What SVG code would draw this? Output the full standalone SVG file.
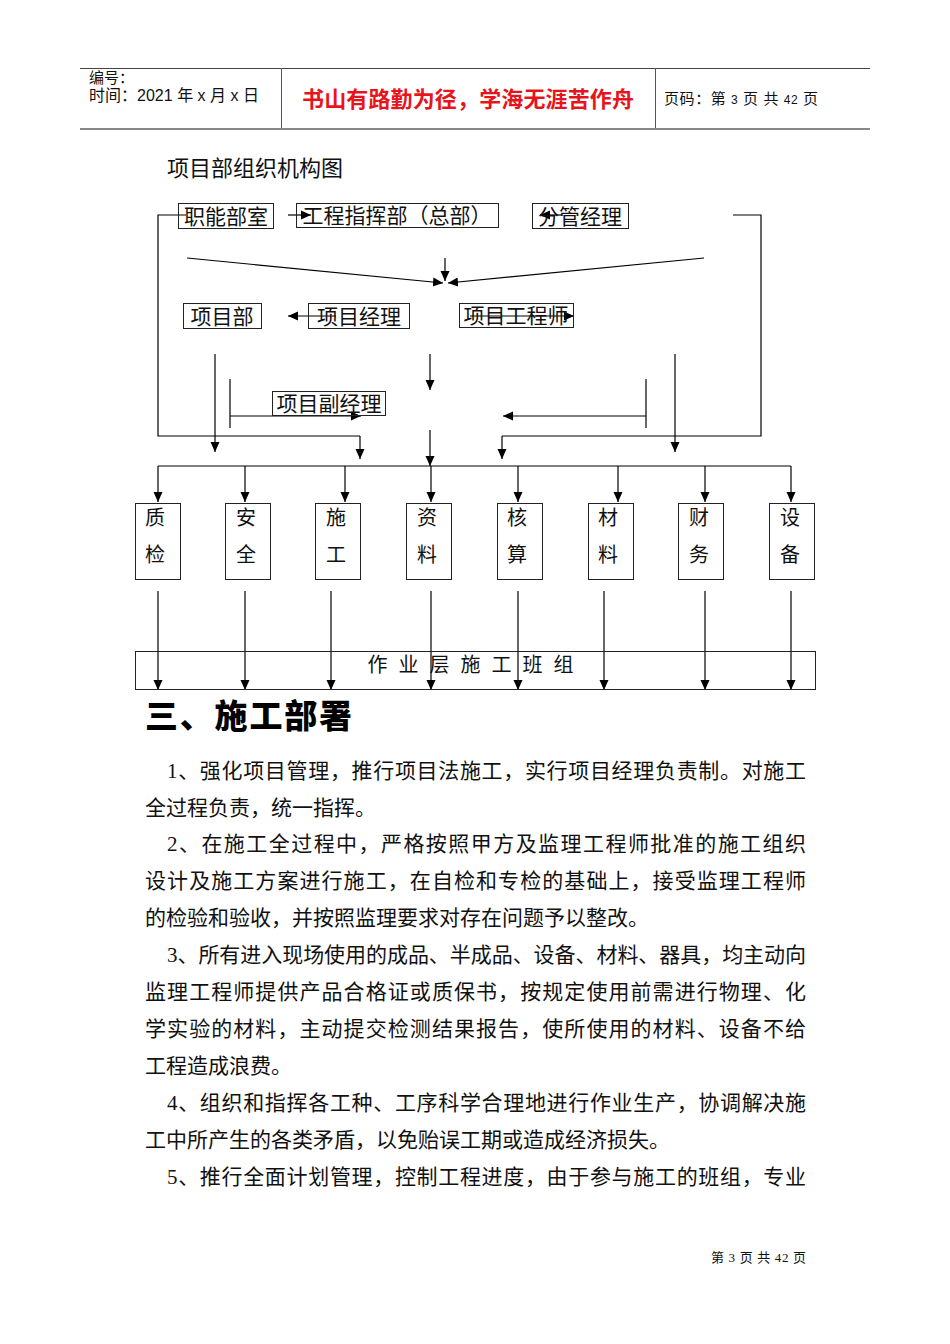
<svg xmlns="http://www.w3.org/2000/svg" width="950" height="1344" viewBox="0 0 950 1344">
<style>
.bx{fill:none;stroke:#222;stroke-width:1}
.ln{fill:none;stroke:#000;stroke-width:1.2}
.ar{fill:none;stroke:#000;stroke-width:1.2;marker-end:url(#ah)}
.t{font-family:"Noto Sans CJK SC","Liberation Serif",serif;fill:#111}
.h{font-family:"Liberation Sans","Noto Sans CJK SC",sans-serif;fill:#111}
.body{font-family:"Liberation Serif","Noto Sans CJK SC",serif;font-size:21px;fill:#111}
</style>
<defs>
<marker id="ah" markerWidth="11" markerHeight="11" refX="10" refY="5" orient="auto" markerUnits="userSpaceOnUse">
<path d="M0,0.5 L10,5 L0,9.5 Z" fill="#000"/>
</marker>
</defs>
<rect width="950" height="1344" fill="#fff"/>

<g id="header">
<line x1="80" y1="68.5" x2="870" y2="68.5" stroke="#444" stroke-width="1"/>
<line x1="80" y1="129" x2="870" y2="129" stroke="#888" stroke-width="2"/>
<line x1="281.5" y1="68" x2="281.5" y2="128" stroke="#555" stroke-width="1"/>
<line x1="655.5" y1="68" x2="655.5" y2="128" stroke="#555" stroke-width="1"/>
<text class="h" x="89" y="83" font-size="15">编号：</text>
<text class="h" x="89" y="101" font-size="16" textLength="170" lengthAdjust="spacing">时间：2021 年 x 月 x 日</text>
<text x="468" y="107" font-size="22" font-weight="bold" text-anchor="middle" fill="#e8141b" font-family="Noto Sans CJK SC, sans-serif" textLength="332" lengthAdjust="spacing">书山有路勤为径，学海无涯苦作舟</text>
<text class="h" x="664" y="104" font-size="15" textLength="154" lengthAdjust="spacing">页码：第 <tspan font-size="12">3</tspan> 页 共 <tspan font-size="12">42</tspan> 页</text>
</g>

<text class="t" x="167" y="176" font-size="22">项目部组织机构图</text>

<g id="connectors">
<path class="ln" d="M186,215 H158 V436 H360"/>
<path class="ar" d="M360,436 V459"/>
<path class="ar" d="M288,215 H311"/>
<path class="ar" d="M562,215 H540"/>
<path class="ln" d="M733,215 H761 V436 H502"/>
<path class="ar" d="M502,436 V459"/>
<path class="ar" d="M187,258 L443,283"/>
<path class="ar" d="M704,258 L448,283"/>
<path class="ar" d="M445,258 V281"/>
<path class="ar" d="M336,316 H288"/>
<path class="ar" d="M470,316 H574"/>
<path class="ar" d="M215,354 V452"/>
<path class="ar" d="M430,354 V390"/>
<path class="ar" d="M675,354 V452"/>
<path class="ln" d="M230,379 V428"/>
<path class="ar" d="M230,416 H361"/>
<path class="ln" d="M646,379 V428"/>
<path class="ar" d="M646,416 H503"/>
<path class="ar" d="M430,430 V466"/>
<path class="ln" d="M158,466 H791"/>
<path class="ar" d="M158,466 V502"/>
<path class="ar" d="M245,466 V502"/>
<path class="ar" d="M345,466 V502"/>
<path class="ar" d="M431,466 V502"/>
<path class="ar" d="M518,466 V502"/>
<path class="ar" d="M618,466 V502"/>
<path class="ar" d="M705,466 V502"/>
<path class="ar" d="M791,466 V502"/>
<path class="ar" d="M158,591 V690"/>
<path class="ar" d="M245,591 V690"/>
<path class="ar" d="M331,591 V690"/>
<path class="ar" d="M431,591 V690"/>
<path class="ar" d="M518,591 V690"/>
<path class="ar" d="M604,591 V690"/>
<path class="ar" d="M705,591 V690"/>
<path class="ar" d="M791,591 V690"/>
</g>

<g id="n-zhineng"><rect class="bx" x="178.5" y="203.5" width="95" height="25"/><text class="t" x="226" y="224" font-size="21" text-anchor="middle">职能部室</text></g>
<g id="n-zhihui"><rect class="bx" x="296.5" y="203.5" width="202" height="24"/><text class="t" x="397" y="223" font-size="21" text-anchor="middle">工程指挥部（总部）</text></g>
<g id="n-fenguan"><rect class="bx" x="532.5" y="203.5" width="96" height="25"/><text class="t" x="580" y="224" font-size="21" text-anchor="middle">分管经理</text></g>
<g id="n-xiangmubu"><rect class="bx" x="183.5" y="303.5" width="78" height="25"/><text class="t" x="222" y="324" font-size="21" text-anchor="middle">项目部</text></g>
<g id="n-jingli"><rect class="bx" x="308.5" y="303.5" width="101" height="25"/><text class="t" x="359" y="324" font-size="21" text-anchor="middle">项目经理</text></g>
<g id="n-gongchengshi"><rect class="bx" x="459.5" y="303.5" width="114" height="24"/><text class="t" x="516" y="323" font-size="21" text-anchor="middle">项目工程师</text></g>
<g id="n-fujingli"><rect class="bx" x="272.5" y="391.5" width="113" height="24"/><text class="t" x="329" y="411" font-size="21" text-anchor="middle">项目副经理</text></g>

<g id="n-zhijian"><rect class="bx" x="135.5" y="503.5" width="45" height="76"/><text class="t" x="155" y="525" font-size="20" text-anchor="middle">质</text><text class="t" x="155" y="562" font-size="20" text-anchor="middle">检</text></g>
<g id="n-anquan"><rect class="bx" x="225.5" y="503.5" width="45" height="76"/><text class="t" x="246" y="525" font-size="20" text-anchor="middle">安</text><text class="t" x="246" y="562" font-size="20" text-anchor="middle">全</text></g>
<g id="n-shigong"><rect class="bx" x="315.5" y="503.5" width="45" height="76"/><text class="t" x="336" y="525" font-size="20" text-anchor="middle">施</text><text class="t" x="336" y="562" font-size="20" text-anchor="middle">工</text></g>
<g id="n-ziliao"><rect class="bx" x="406.5" y="503.5" width="45" height="76"/><text class="t" x="427" y="525" font-size="20" text-anchor="middle">资</text><text class="t" x="427" y="562" font-size="20" text-anchor="middle">料</text></g>
<g id="n-hesuan"><rect class="bx" x="497.5" y="503.5" width="45" height="76"/><text class="t" x="517" y="525" font-size="20" text-anchor="middle">核</text><text class="t" x="517" y="562" font-size="20" text-anchor="middle">算</text></g>
<g id="n-cailiao"><rect class="bx" x="588.5" y="503.5" width="45" height="76"/><text class="t" x="608" y="525" font-size="20" text-anchor="middle">材</text><text class="t" x="608" y="562" font-size="20" text-anchor="middle">料</text></g>
<g id="n-caiwu"><rect class="bx" x="678.5" y="503.5" width="45" height="76"/><text class="t" x="699" y="525" font-size="20" text-anchor="middle">财</text><text class="t" x="699" y="562" font-size="20" text-anchor="middle">务</text></g>
<g id="n-shebei"><rect class="bx" x="769.5" y="503.5" width="45" height="76"/><text class="t" x="790" y="525" font-size="20" text-anchor="middle">设</text><text class="t" x="790" y="562" font-size="20" text-anchor="middle">备</text></g>

<g id="n-banzu"><rect class="bx" x="135.5" y="651.5" width="680" height="38"/><text class="t" x="476" y="672" font-size="20" text-anchor="middle" letter-spacing="11">作业层施工班组</text></g>

<g id="body">
<text x="145" y="728" font-size="33" font-weight="900" font-family="Noto Sans CJK SC, sans-serif" fill="#000" textLength="207" lengthAdjust="spacing">三、施工部署</text>
<text class="body" x="167" y="778" textLength="639" lengthAdjust="spacing">1、强化项目管理，推行项目法施工，实行项目经理负责制。对施工</text>
<text class="body" x="145" y="815">全过程负责，统一指挥。</text>
<text class="body" x="167" y="851" textLength="639" lengthAdjust="spacing">2、在施工全过程中，严格按照甲方及监理工程师批准的施工组织</text>
<text class="body" x="145" y="888" textLength="661" lengthAdjust="spacing">设计及施工方案进行施工，在自检和专检的基础上，接受监理工程师</text>
<text class="body" x="145" y="925">的检验和验收，并按照监理要求对存在问题予以整改。</text>
<text class="body" x="167" y="962" textLength="639" lengthAdjust="spacing">3、所有进入现场使用的成品、半成品、设备、材料、器具，均主动向</text>
<text class="body" x="145" y="999" textLength="661" lengthAdjust="spacing">监理工程师提供产品合格证或质保书，按规定使用前需进行物理、化</text>
<text class="body" x="145" y="1036" textLength="661" lengthAdjust="spacing">学实验的材料，主动提交检测结果报告，使所使用的材料、设备不给</text>
<text class="body" x="145" y="1073">工程造成浪费。</text>
<text class="body" x="167" y="1110" textLength="639" lengthAdjust="spacing">4、组织和指挥各工种、工序科学合理地进行作业生产，协调解决施</text>
<text class="body" x="145" y="1147">工中所产生的各类矛盾，以免贻误工期或造成经济损失。</text>
<text class="body" x="167" y="1184" textLength="639" lengthAdjust="spacing">5、推行全面计划管理，控制工程进度，由于参与施工的班组，专业</text>
</g>

<text x="711" y="1262" font-size="13" font-family="Liberation Serif, Noto Sans CJK SC, serif" fill="#111" textLength="95" lengthAdjust="spacing">第 3 页 共 42 页</text>
</svg>
